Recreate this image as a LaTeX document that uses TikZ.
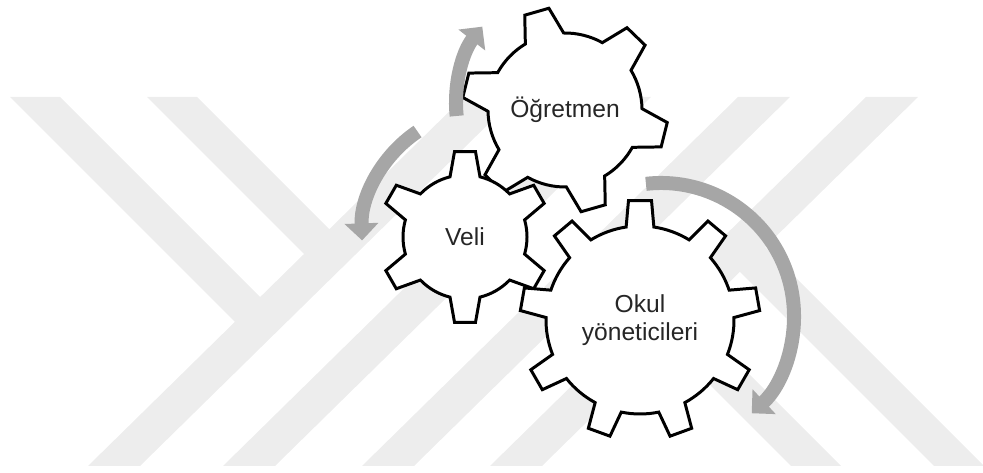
\documentclass[tikz,border=0pt]{standalone}
\usepackage{fontspec}
\setmainfont{Liberation Sans}
\usetikzlibrary{arrows.meta}
\definecolor{wmgray}{RGB}{237,237,237}
\definecolor{arrowgray}{RGB}{166,166,166}
\definecolor{labelgray}{RGB}{38,38,38}

% gear outline: center, teeth, tip radius, root radius, tip half angle, root half angle, first tooth angle
\newcommand{\gearshape}[7]{%
  \begin{scope}[shift={(#1)}]
    \filldraw[gearline] ({#7-#6}:#4)
    \foreach \k in {1,...,#2}{
      -- ({#7+(\k-1)*360/#2-#5}:#3) -- ({#7+(\k-1)*360/#2+#5}:#3)
      -- ({#7+(\k-1)*360/#2+#6}:#4)
      arc[start angle={#7+(\k-1)*360/#2+#6}, end angle={#7+\k*360/#2-#6}, radius=#4]
    } -- cycle;
  \end{scope}}

\begin{document}
\begin{tikzpicture}[x=0.2mm, y=0.2mm,
  gearline/.style={draw=black, fill=white, line width=1.7pt},
  cyclearrow/.style={draw=arrowgray, line width=2.8mm, -{Triangle[length=3.4mm, width=6.6mm]}},
  gearlabel/.style={font=\fontsize{14}{16}\selectfont, text=labelgray, align=center}]
\useasboundingbox (0,0) rectangle (983,473);
% Watermark bands
\fill[wmgray] (88,7) -- (140,7) -- (516,376) -- (464,376) -- cycle;
\fill[wmgray] (223,7) -- (275,7) -- (651,376) -- (599,376) -- cycle;
\fill[wmgray] (362,7) -- (414,7) -- (790,376) -- (738,376) -- cycle;
\fill[wmgray] (490,7) -- (542,7) -- (918,376) -- (866,376) -- cycle;
\fill[wmgray] (10,376) -- (60,376) -- (270,166) -- (245,141) -- cycle;
\fill[wmgray] (147,376) -- (197,376) -- (339,234) -- (314,209) -- cycle;
\fill[wmgray] (791,7) -- (841,7) -- (620,228) -- (594,204) -- cycle;
\fill[wmgray] (934,7) -- (984,7) -- (755,236) -- (730,211) -- cycle;
% Gears
\coordinate (ogr) at (565,363);
\coordinate (veli) at (465,236);
\coordinate (okul) at (640,153);
\gearshape{ogr}{6}{103}{77}{7}{15}{166}
\gearshape{veli}{6}{86}{62}{7}{14}{30}
\gearshape{okul}{9}{120}{94}{5.5}{8.5}{10}
% Turning arrows
\coordinate (ogrturn) at (580,370);
\coordinate (veliturn) at (488,237);
\coordinate (okulturn) at (661,157);
\draw[cyclearrow] ([shift={(186:124)}]ogrturn) arc[start angle=186, end angle=142, radius=124];
\draw[cyclearrow] ([shift={(124:126)}]veliturn) arc[start angle=124, end angle=182, radius=126];
\draw[cyclearrow] ([shift={(96.5:133)}]okulturn) arc[start angle=96.5, end angle=-47, radius=133];
% Labels
\node[gearlabel] (ogrlabel) at (ogr) {Öğretmen};
\node[gearlabel] (velilabel) at (veli) {Veli};
\node[gearlabel] (okullabel) at (okul) {Okul\\yöneticileri};
\end{tikzpicture}
\end{document}
